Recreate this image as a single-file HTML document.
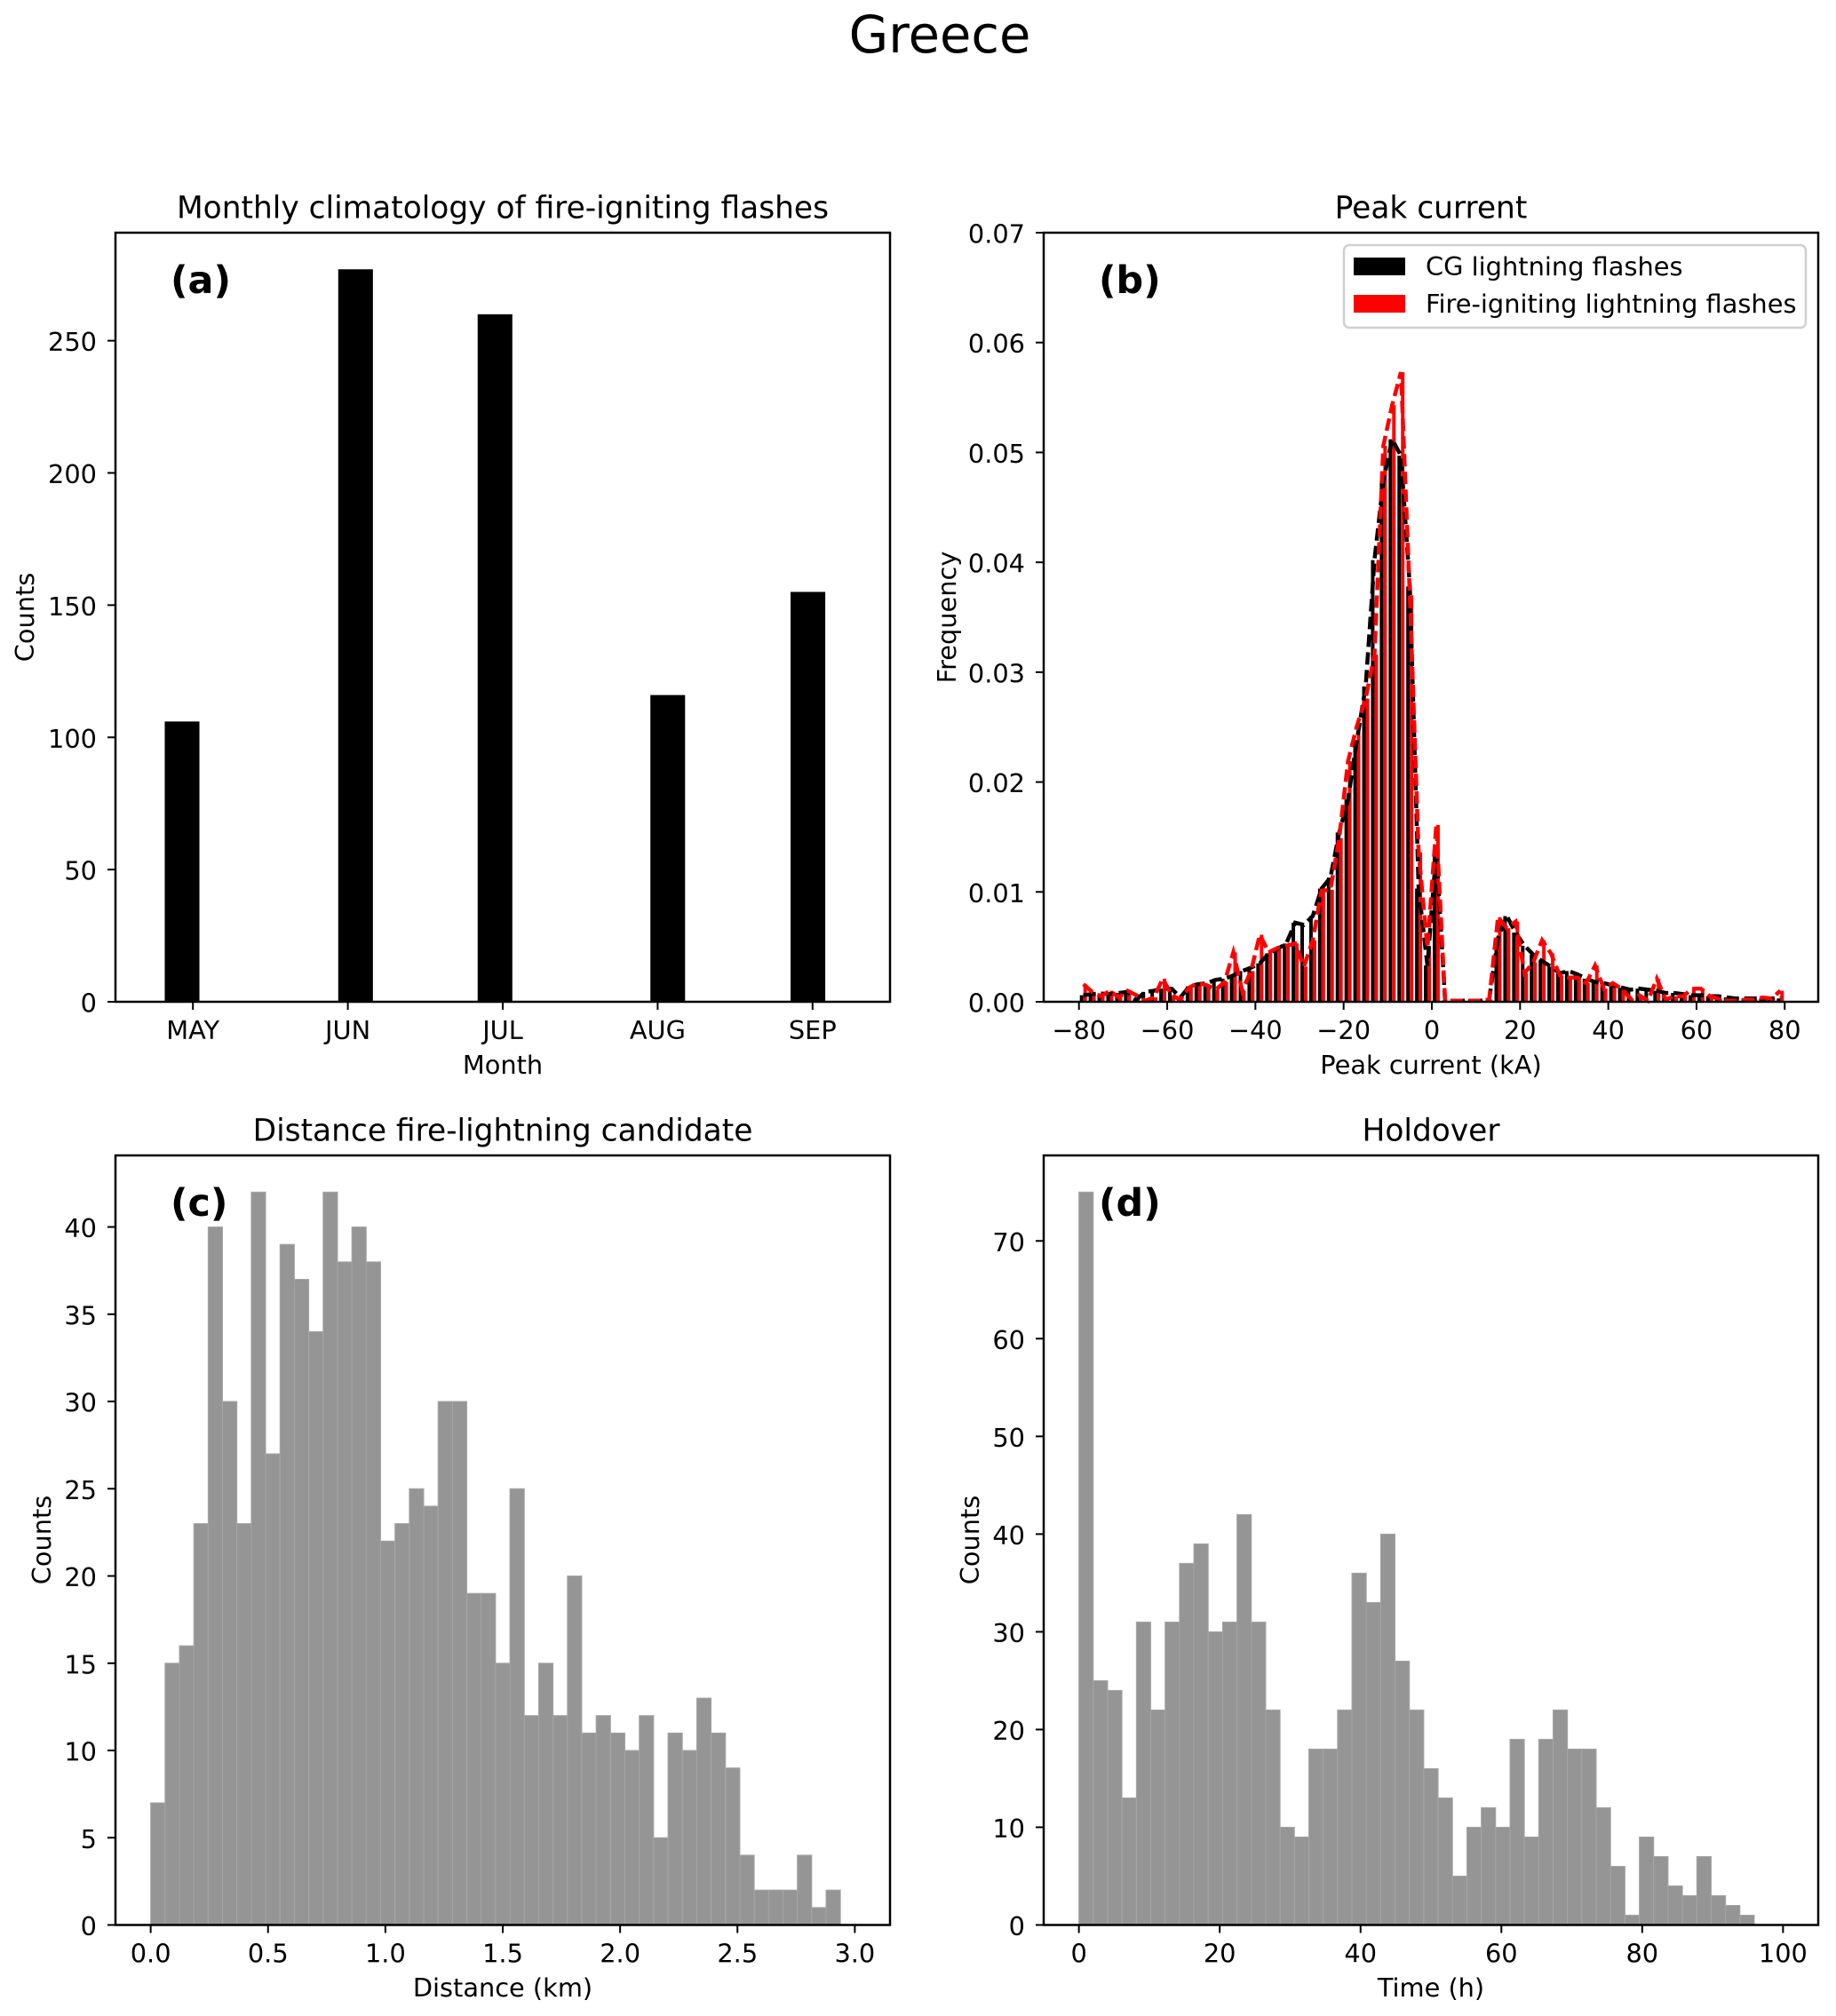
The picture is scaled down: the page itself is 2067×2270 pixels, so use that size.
<!DOCTYPE html>
<html lang="en">
<head>
<meta charset="utf-8">
<title>Greece</title>
<style>
html,body{margin:0;padding:0;background:#fff;}
svg{display:block;}
text{font-family:"DejaVu Sans","Liberation Sans",sans-serif;fill:#000;}
</style>
</head>
<body>
<svg id="fig" xmlns="http://www.w3.org/2000/svg" width="2067" height="2270" viewBox="0 0 2067 2270">
  <rect x="0" y="0" width="2067" height="2270" fill="#fff"/>
  <text x="1058" y="59" font-size="57.5" text-anchor="middle">Greece</text>

  <g id="panel-a"></g>
  <g id="panel-b"></g>
  <g id="panel-c"></g>
  <g id="panel-d"></g>

  <text x="566" y="245.5" font-size="34.4" text-anchor="middle">Monthly climatology of fire-igniting flashes</text>
  <text x="566" y="1209" font-size="28.8" text-anchor="middle">Month</text>
  <text x="28" y="695" font-size="28.8" text-anchor="middle" dominant-baseline="central" transform="rotate(-90 28 695)">Counts</text>
  <text x="192" y="330" font-size="42.8" font-weight="bold">(a)</text>

  <text x="1611" y="245.5" font-size="34.4" text-anchor="middle">Peak current</text>
  <text x="1611" y="1209" font-size="28.8" text-anchor="middle">Peak current (kA)</text>
  <text x="1066" y="695" font-size="28.8" text-anchor="middle" dominant-baseline="central" transform="rotate(-90 1066 695)">Frequency</text>
  <text x="1237" y="330" font-size="42.8" font-weight="bold">(b)</text>

  <g>
    <rect x="1513" y="276" width="520" height="93" rx="6" ry="6" fill="#fff" stroke="#d0d0d0" stroke-width="2.5"/>
    <rect x="1524" y="290" width="58" height="20" fill="#000"/>
    <text x="1605" y="310" font-size="28.85">CG lightning flashes</text>
    <rect x="1524" y="332" width="58" height="20" fill="#ff0000"/>
    <text x="1605" y="352" font-size="28.85">Fire-igniting lightning flashes</text>
  </g>

  <text x="566" y="1284.5" font-size="34.4" text-anchor="middle">Distance fire-lightning candidate</text>
  <text x="566" y="2248" font-size="28.8" text-anchor="middle">Distance (km)</text>
  <text x="47" y="1734" font-size="28.8" text-anchor="middle" dominant-baseline="central" transform="rotate(-90 47 1734)">Counts</text>
  <text x="192" y="1369" font-size="42.8" font-weight="bold">(c)</text>

  <text x="1611" y="1284.5" font-size="34.4" text-anchor="middle">Holdover</text>
  <text x="1611" y="2248" font-size="28.8" text-anchor="middle">Time (h)</text>
  <text x="1092" y="1734" font-size="28.8" text-anchor="middle" dominant-baseline="central" transform="rotate(-90 1092 1734)">Counts</text>
  <text x="1237" y="1369" font-size="42.8" font-weight="bold">(d)</text>
</svg>
<script>
// ---- panel (a) data ----
const monthLabels = ['MAY', 'JUN', 'JUL', 'AUG', 'SEP'];
const monthCounts = [106, 277, 260, 116, 155];
const monthBinCentres = [-0.07, 1.05, 1.95, 3.065, 3.97];
const monthBinWidth = 0.224;
const monthYTicks = [0, 50, 100, 150, 200, 250];

// ---- panel (b) data ----
const peakBinStart = -80;
const peakBinWidth = 2;
const cgFreq = [
  .0006,.0007,.00075,.0007,.0008,.0009,.0002,.0009,.001,.0012,
  .0012,.0004,.0014,.0016,.0017,.002,.0021,.0024,.0028,.0031,
  .0035,.0044,.0048,.0053,.0072,.007,.0078,.0103,.0113,.0154,
  .0184,.0238,.0287,.0402,.0474,.0512,.0497,.0378,.0103,.0033,
  .0138,.0001,.0001,.0001,.0001,.0001,.0002,.0058,.0078,.0063,
  .0051,.0043,.0037,.0032,.0026,.0028,.0025,.0021,.0018,.0017,
  .0015,.0013,.0011,.0012,.0011,.001,.0008,.0008,.0007,.0006,
  .0006,.0005,.0005,.0004,.0003,.0003,.0003,.0003,.0003,.0003
];
const fireFreq = [
  .0016,.0009,.0005,.001,.0004,.001,.0006,.0001,.0004,.0021,
  .0006,.0002,.0013,.0017,.0015,.0011,.0018,.0045,.001,.0028,
  .0061,.0045,.0049,.0051,.0053,.0032,.0056,.0101,.0102,.0149,
  .0219,.0251,.0276,.0316,.0506,.0543,.0573,.037,.0136,.0049,
  .0161,.0001,.0001,.0001,.0001,.0001,.0002,.0077,.0067,.0073,
  .0026,.0036,.0056,.0044,.0024,.0022,.0022,.0017,.0033,.0012,
  .0017,.0012,.0003,.0006,.0001,.0021,.0002,.0005,.0005,.0012,
  .0012,.0005,.0003,.0001,.0001,.0002,.0002,.0004,.0003,.001
];
const peakXTicks = [-80, -60, -40, -20, 0, 20, 40, 60, 80];
const peakYTicks = [0, 0.01, 0.02, 0.03, 0.04, 0.05, 0.06, 0.07];

// ---- panel (c) data ----
const distanceBinWidth = 3 / 49;
const distanceCounts = [
  7,15,16,23,40,30,23,42,27,39,37,34,42,38,40,38,22,23,25,24,
  30,30,19,19,15,25,12,15,12,20,11,12,11,10,12,5,11,10,13,11,
  9,4,2,2,2,4,1,2,0
];
const distanceXTicks = [0, 0.5, 1, 1.5, 2, 2.5, 3];
const distanceYTicks = [0, 5, 10, 15, 20, 25, 30, 35, 40];

// ---- panel (d) data ----
const holdoverBinWidth = 100 / 49;
const holdoverCounts = [
  75,25,24,13,31,22,31,37,39,30,31,42,31,22,10,9,18,18,22,36,
  33,40,27,22,16,13,5,10,12,10,19,9,19,22,18,18,12,6,1,9,
  7,4,3,7,3,2,1,0,0
];
const holdoverXTicks = [0, 20, 40, 60, 80, 100];
const holdoverYTicks = [0, 10, 20, 30, 40, 50, 60, 70];

const NS = 'http://www.w3.org/2000/svg';
function mk(parent, tag, attrs) {
  const el = document.createElementNS(NS, tag);
  for (const k in attrs) el.setAttribute(k, attrs[k]);
  parent.appendChild(el);
  return el;
}
function linear(d0, d1, r0, r1) {
  return v => r0 + (v - d0) * (r1 - r0) / (d1 - d0);
}
const fmtMinus = s => String(s).replace('-', '\u2212');

function drawAxes(g, box, x, y, xTicks, xFmt, yTicks, yFmt, tag) {
  xTicks.forEach((t, i) => {
    const tick = mk(g, 'line', {x1: x(t), x2: x(t), y1: box.b, y2: box.b + 9, stroke: '#000', 'stroke-width': 2});
    
    
    const lab = mk(g, 'text', {x: x(t), y: box.b + 42, 'font-size': 28.8, 'text-anchor': 'middle'});
    lab.textContent = xFmt(t, i);
    
    
  });
  yTicks.forEach((t, i) => {
    const tick = mk(g, 'line', {x1: box.l - 9, x2: box.l, y1: y(t), y2: y(t), stroke: '#000', 'stroke-width': 2});
    
    
    const lab = mk(g, 'text', {x: box.l - 21, y: y(t) + 11.5, 'font-size': 28.8, 'text-anchor': 'end'});
    lab.textContent = yFmt(t, i);
    
    
  });
  const frame = mk(g, 'rect', {x: box.l, y: box.t, width: box.r - box.l, height: box.b - box.t, fill: 'none', stroke: '#000', 'stroke-width': 2.5});
  
  
}

// Panel (a)
(function () {
  const g = document.getElementById('panel-a');
  const box = {l: 130, r: 1002, t: 262, b: 1128};
  const x = linear(-0.5, 4.5, box.l, box.r);
  const y = linear(0, Math.max(...monthCounts) * 1.05, box.b, box.t);
  monthCounts.forEach((v, i) => {
    const c = monthBinCentres[i];
    const bar = mk(g, 'rect', {x: x(c - monthBinWidth / 2), y: y(v), width: x(c + monthBinWidth / 2) - x(c - monthBinWidth / 2), height: y(0) - y(v), fill: '#000'});
    
    
  });
  drawAxes(g, box, x, y, monthLabels.map((_, i) => i), (t, i) => monthLabels[i], monthYTicks, t => String(t), 'a');
})();

// Panel (b)
(function () {
  const g = document.getElementById('panel-b');
  const box = {l: 1175, r: 2047, t: 262, b: 1128};
  const x = linear(-88, 87.6, 1175, 2047);
  const y = linear(0, 0.07, box.b, box.t);
  const centre = i => peakBinStart + peakBinWidth * (i + 0.5);
  const barW = peakBinWidth * 0.4;
  cgFreq.forEach((v, i) => {
    const c = centre(i);
    const bar = mk(g, 'rect', {x: x(c - barW), y: y(v), width: x(c) - x(c - barW), height: y(0) - y(v), fill: '#000'});
    
    
  });
  fireFreq.forEach((v, i) => {
    const c = centre(i);
    const bar = mk(g, 'rect', {x: x(c), y: y(v), width: x(c + barW) - x(c), height: y(0) - y(v), fill: '#ff0000'});
    
    
  });
  const toPts = arr => arr.map((v, i) => x(centre(i)).toFixed(1) + ',' + y(v).toFixed(1)).join(' ');
  const cgLine = mk(g, 'polyline', {points: toPts(cgFreq), fill: 'none', stroke: '#000', 'stroke-width': 4.5, 'stroke-dasharray': '14 6', 'stroke-linejoin': 'miter'});
  
  
  const fireLine = mk(g, 'polyline', {points: toPts(fireFreq), fill: 'none', stroke: '#ff0000', 'stroke-width': 4.5, 'stroke-dasharray': '14 6', 'stroke-linejoin': 'miter'});
  
  
  drawAxes(g, box, x, y, peakXTicks, t => fmtMinus(t), peakYTicks, t => t.toFixed(2), 'b');
})();

// Panels (c) and (d)
function drawHist(id, tag, counts, binW, xMin, xMax, box, xTicks, xFmt, yTicks) {
  const g = document.getElementById(id);
  const x = linear(xMin, xMax, box.l, box.r);
  const y = linear(0, Math.max(...counts) * 1.05, box.b, box.t);
  counts.forEach((v, i) => {
    const bar = mk(g, 'rect', {x: x(i * binW), y: y(v), width: x((i + 1) * binW) - x(i * binW), height: y(0) - y(v), fill: '#959595', stroke: '#a6a6a6', 'stroke-width': 1});
    
    
  });
  drawAxes(g, box, x, y, xTicks, xFmt, yTicks, t => String(t), tag);
}
drawHist('panel-c', 'c', distanceCounts, distanceBinWidth, -0.15, 3.15, {l: 130, r: 1002, t: 1301, b: 2167.5}, distanceXTicks, t => t.toFixed(1), distanceYTicks);
drawHist('panel-d', 'd', holdoverCounts, holdoverBinWidth, -5, 105, {l: 1175, r: 2047, t: 1301, b: 2167.5}, holdoverXTicks, t => String(t), holdoverYTicks);
</script>
</body>
</html>
